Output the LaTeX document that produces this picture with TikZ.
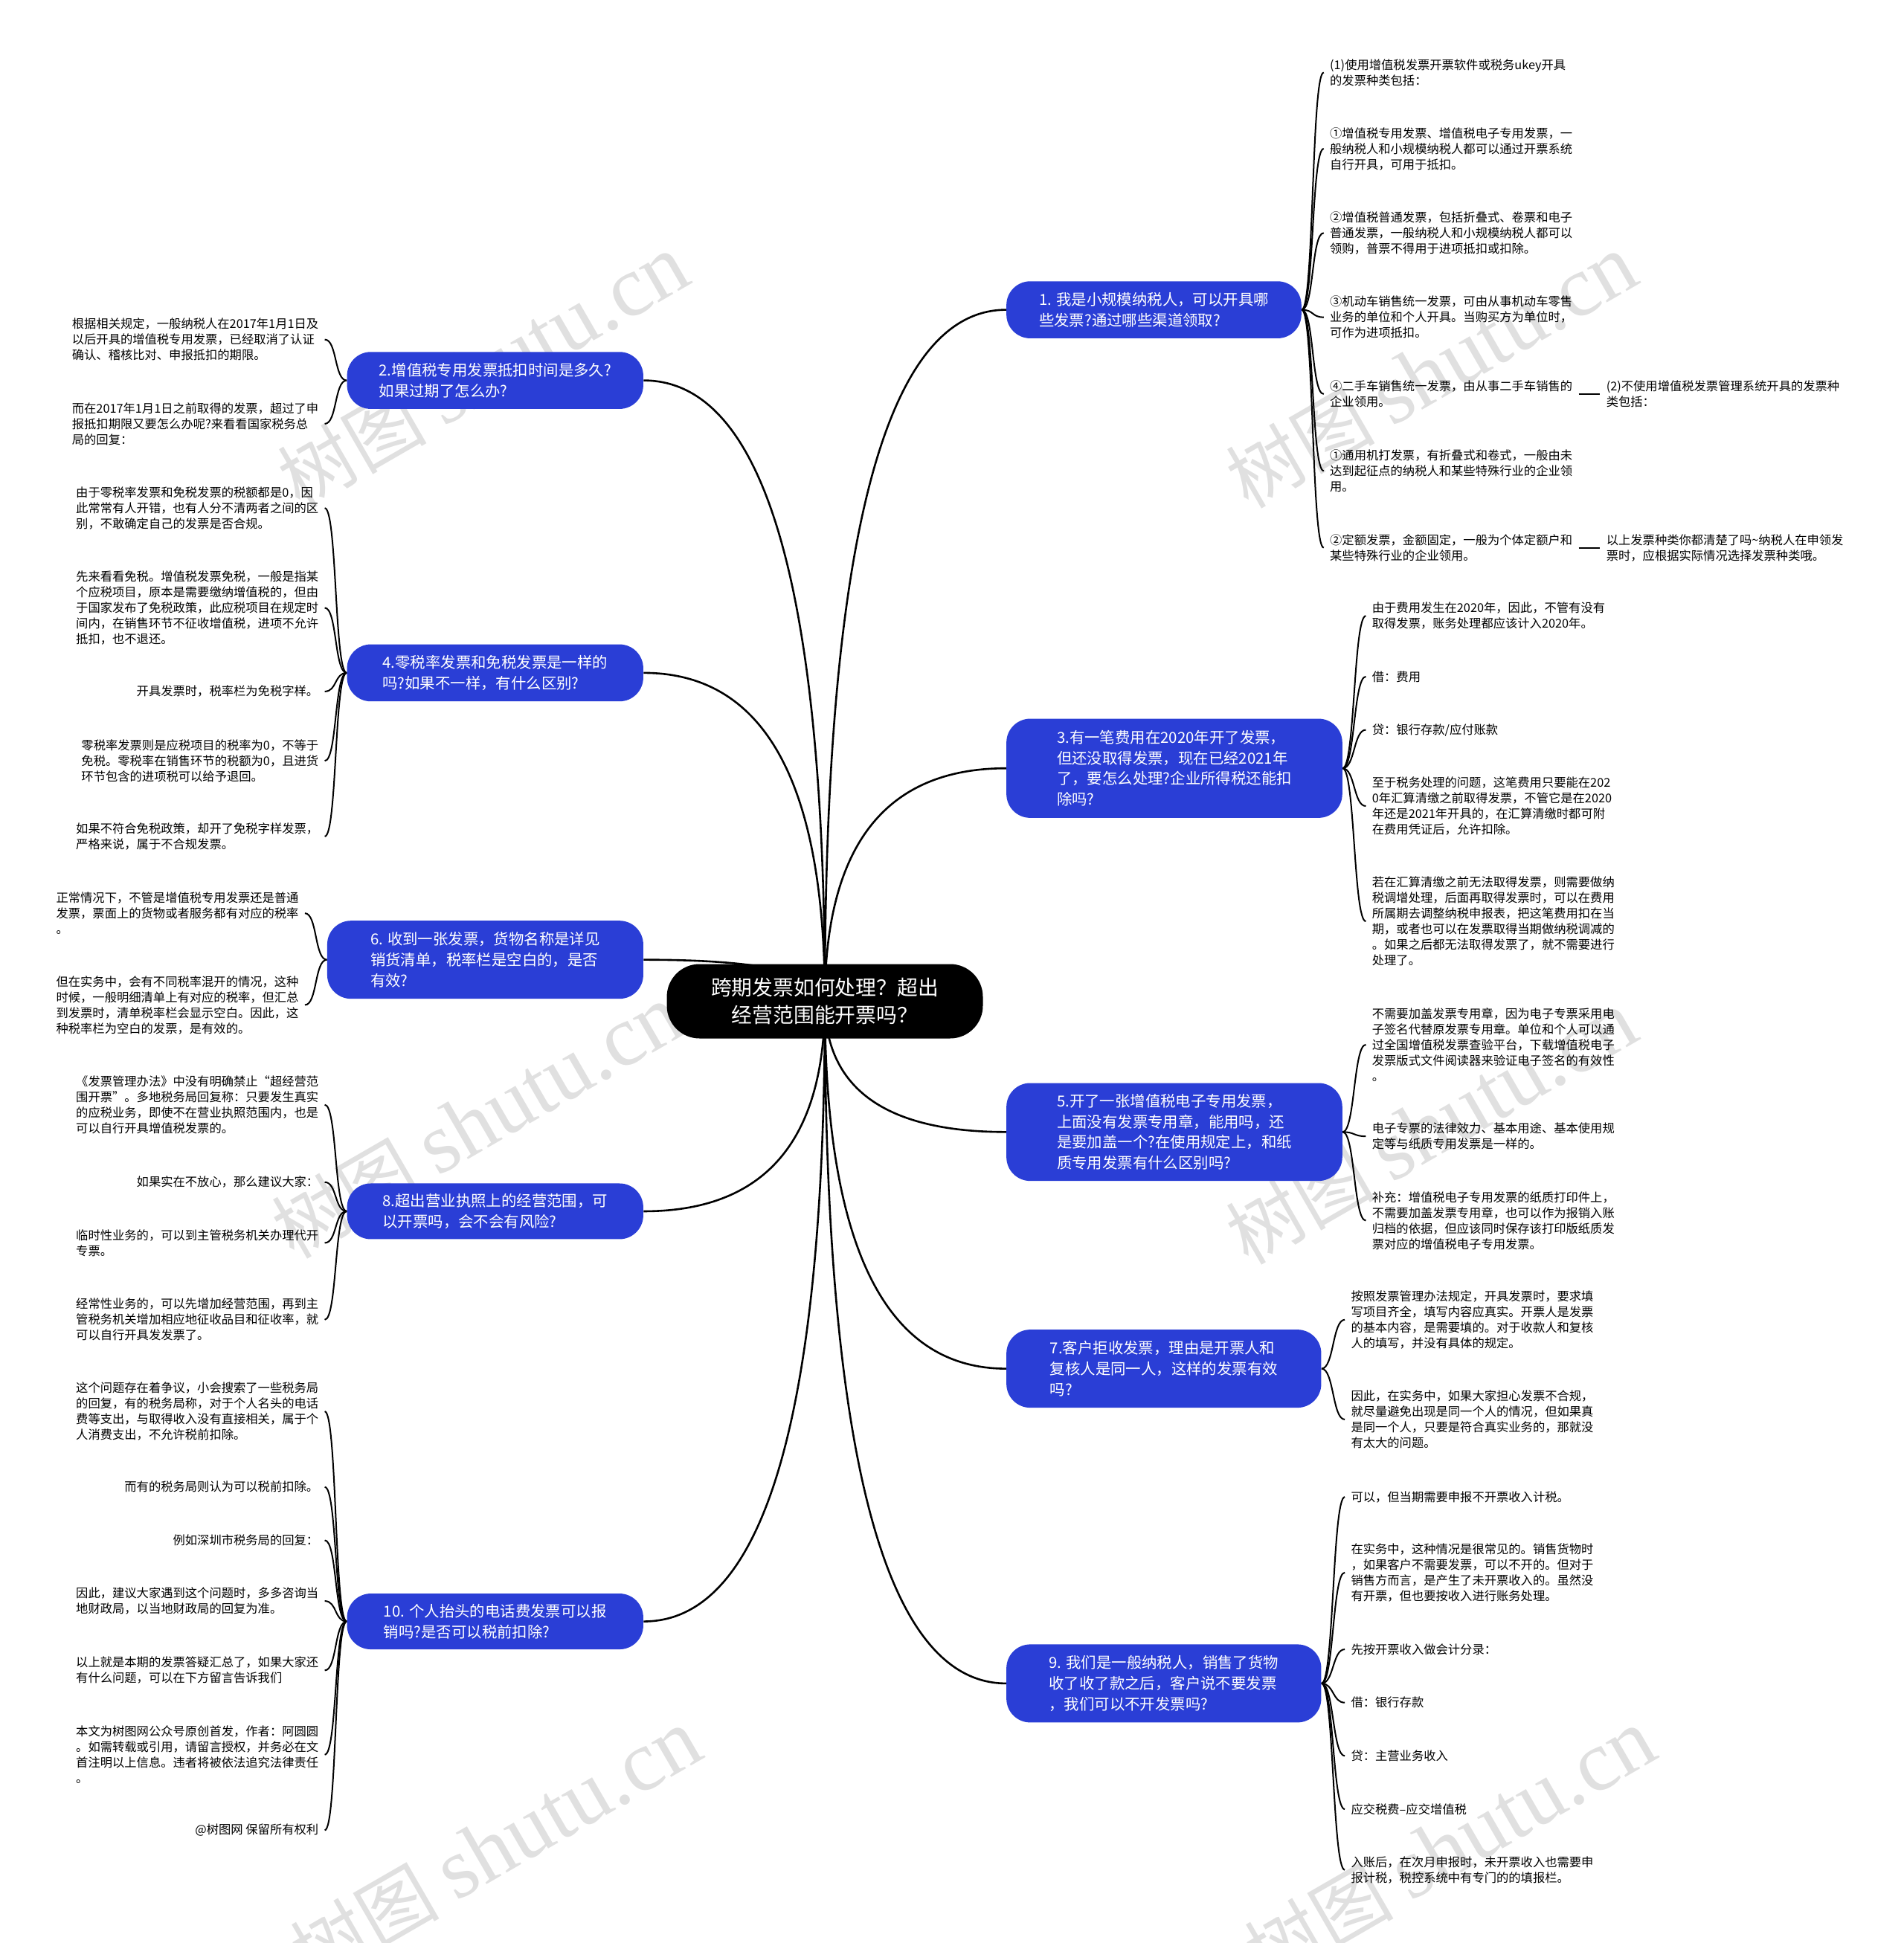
\documentclass[tikz,border=0pt]{standalone}
\usepackage{fontspec}
\setmainfont{Noto Sans CJK SC}
\newfontfamily\wmserif{Liberation Serif}
\usetikzlibrary{calc}

\definecolor{topicblue}{RGB}{42,62,214}
\definecolor{wmgray}{RGB}{224,224,224}
\pgfdeclarelayer{bg}
\pgfsetlayers{bg,main}

\newcommand{\rootfont}{\fontsize{13.9}{18.3}\selectfont}
\newcommand{\topicfont}{\fontsize{10.2}{13.9}\selectfont}
\newcommand{\leaffont}{\fontsize{8.15}{10.5}\selectfont}

\tikzset{
  boxsize/.style 2 args={minimum width=#1*0.8333pt, minimum height=#2*0.8333pt},
  rootnode/.style={fill=black, text=white, rounded corners=22pt, align=center, font=\rootfont, inner sep=0pt},
  topic/.style={fill=topicblue, text=white, rounded corners=16pt, align=left, font=\topicfont, inner sep=0pt},
  leafR/.style={anchor=west, align=left, font=\leaffont, inner xsep=4pt, inner ysep=0pt},
  leafL/.style={anchor=east, align=left, font=\leaffont, inner xsep=4pt, inner ysep=0pt},
  mainlink/.style={line width=1.3pt, to path={.. controls ($(\tikztostart)!0.667!(\tikztostart|-\tikztotarget)$) and ($(\tikztotarget)!0.667!(\tikztostart|-\tikztotarget)$) .. (\tikztotarget)}},
  brace/.style={line width=1pt, to path={.. controls ($(\tikztostart)+(#1,0)$) and ($(\tikztotarget)-(#1,0)$) .. (\tikztotarget)}},
  brace/.default=10,
  watermark/.style={text=wmgray, rotate=30, inner sep=0pt},
}

\begin{document}
\begin{tikzpicture}[x=0.8333pt, y=-0.8333pt]
  \useasboundingbox (0,0) rectangle (1536,1568);

  % root and questions
  \node[rootnode, boxsize={255}{60}] (root) at (665.5,808) {跨期发票如何处理？超出\\经营范围能开票吗？};

  \node[topic, boxsize={238}{46}] (q1) at (931,250) {1. 我是小规模纳税人，可以开具哪\\些发票?通过哪些渠道领取?};
  \node[topic, boxsize={239}{46}] (q2) at (399.5,307) {2.增值税专用发票抵扣时间是多久?\\如果过期了怎么办?};
  \node[topic, boxsize={271}{80}] (q3) at (947.5,620) {3.有一笔费用在2020年开了发票，\\但还没取得发票，现在已经2021年\\了，要怎么处理?企业所得税还能扣\\除吗?};
  \node[topic, boxsize={239}{46}] (q4) at (399.5,543) {4.零税率发票和免税发票是一样的\\吗?如果不一样，有什么区别?};
  \node[topic, boxsize={271}{79}] (q5) at (947.5,913.5) {5.开了一张增值税电子专用发票，\\上面没有发票专用章，能用吗，还\\是要加盖一个?在使用规定上，和纸\\质专用发票有什么区别吗?};
  \node[topic, boxsize={255}{63}] (q6) at (391.5,774.5) {6. 收到一张发票，货物名称是详见\\销货清单，税率栏是空白的，是否\\有效?};
  \node[topic, boxsize={254}{63}] (q7) at (939,1104.5) {7.客户拒收发票，理由是开票人和\\复核人是同一人，这样的发票有效\\吗?};
  \node[topic, boxsize={239}{45}] (q8) at (399.5,977.5) {8.超出营业执照上的经营范围，可\\以开票吗，会不会有风险?};
  \node[topic, boxsize={254}{63}] (q9) at (939,1358.5) {9. 我们是一般纳税人，销售了货物\\收了收了款之后，客户说不要发票\\，我们可以不开发票吗?};
  \node[topic, boxsize={239}{45}] (q10) at (399.5,1308.5) {10. 个人抬头的电话费发票可以报\\销吗?是否可以税前扣除?};

  % answers, right side
  \node[leafR] (q1a) at (1068,58.5) {(1)使用增值税发票开票软件或税务ukey开具\\的发票种类包括：};
  \node[leafR] (q1b) at (1068,120) {①增值税专用发票、增值税电子专用发票，一\\般纳税人和小规模纳税人都可以通过开票系统\\自行开具，可用于抵扣。};
  \node[leafR] (q1c) at (1068,188) {②增值税普通发票，包括折叠式、卷票和电子\\普通发票，一般纳税人和小规模纳税人都可以\\领购，普票不得用于进项抵扣或扣除。};
  \node[leafR] (q1d) at (1068,256) {③机动车销售统一发票，可由从事机动车零售\\业务的单位和个人开具。当购买方为单位时，\\可作为进项抵扣。};
  \node[leafR] (q1e) at (1068,318) {④二手车销售统一发票，由从事二手车销售的\\企业领用。};
  \node[leafR] (q1f) at (1068,380) {①通用机打发票，有折叠式和卷式，一般由未\\达到起征点的纳税人和某些特殊行业的企业领\\用。};
  \node[leafR] (q1g) at (1068,442) {②定额发票，金额固定，一般为个体定额户和\\某些特殊行业的企业领用。};
  \node[leafR] (q1h) at (1291,318) {(2)不使用增值税发票管理系统开具的发票种\\类包括：};
  \node[leafR] (q1i) at (1291,442) {以上发票种类你都清楚了吗\textasciitilde 纳税人在申领发\\票时，应根据实际情况选择发票种类哦。};

  \node[leafR] (q3a) at (1102,497) {由于费用发生在2020年，因此，不管有没有\\取得发票，账务处理都应该计入2020年。};
  \node[leafR] (q3b) at (1102,546) {借：费用};
  \node[leafR] (q3c) at (1102,589) {贷：银行存款/应付账款};
  \node[leafR] (q3d) at (1102,650.5) {至于税务处理的问题，这笔费用只要能在202\\0年汇算清缴之前取得发票，不管它是在2020\\年还是2021年开具的，在汇算清缴时都可附\\在费用凭证后，允许扣除。};
  \node[leafR] (q3e) at (1102,743.5) {若在汇算清缴之前无法取得发票，则需要做纳\\税调增处理，后面再取得发票时，可以在费用\\所属期去调整纳税申报表，把这笔费用扣在当\\期，或者也可以在发票取得当期做纳税调减的\\。如果之后都无法取得发票了，就不需要进行\\处理了。};

  \node[leafR] (q5a) at (1102,843) {不需要加盖发票专用章，因为电子专票采用电\\子签名代替原发票专用章。单位和个人可以通\\过全国增值税发票查验平台，下载增值税电子\\发票版式文件阅读器来验证电子签名的有效性\\。};
  \node[leafR] (q5b) at (1102,917) {电子专票的法律效力、基本用途、基本使用规\\定等与纸质专用发票是一样的。};
  \node[leafR] (q5c) at (1102,985) {补充：增值税电子专用发票的纸质打印件上，\\不需要加盖发票专用章，也可以作为报销入账\\归档的依据，但应该同时保存该打印版纸质发\\票对应的增值税电子专用发票。};

  \node[leafR] (q7a) at (1085,1065) {按照发票管理办法规定，开具发票时，要求填\\写项目齐全，填写内容应真实。开票人是发票\\的基本内容，是需要填的。对于收款人和复核\\人的填写，并没有具体的规定。};
  \node[leafR] (q7b) at (1085,1145.5) {因此，在实务中，如果大家担心发票不合规，\\就尽量避免出现是同一个人的情况，但如果真\\是同一个人，只要是符合真实业务的，那就没\\有太大的问题。};

  \node[leafR] (q9a) at (1085,1208) {可以，但当期需要申报不开票收入计税。};
  \node[leafR] (q9b) at (1085,1269) {在实务中，这种情况是很常见的。销售货物时\\，如果客户不需要发票，可以不开的。但对于\\销售方而言，是产生了未开票收入的。虽然没\\有开票，但也要按收入进行账务处理。};
  \node[leafR] (q9c) at (1085,1331) {先按开票收入做会计分录：};
  \node[leafR] (q9d) at (1085,1374) {借：银行存款};
  \node[leafR] (q9e) at (1085,1417) {贷：主营业务收入};
  \node[leafR] (q9f) at (1085,1460) {应交税费–应交增值税};
  \node[leafR] (q9g) at (1085,1509) {入账后，在次月申报时，未开票收入也需要申\\报计税，税控系统中有专门的的填报栏。};

  % answers, left side
  \node[leafL] (q2a) at (262,274) {根据相关规定，一般纳税人在2017年1月1日及\\以后开具的增值税专用发票，已经取消了认证\\确认、稽核比对、申报抵扣的期限。};
  \node[leafL] (q2b) at (262,342) {而在2017年1月1日之前取得的发票，超过了申\\报抵扣期限又要怎么办呢?来看看国家税务总\\局的回复：};

  \node[leafL] (q4a) at (262,410) {由于零税率发票和免税发票的税额都是0，因\\此常常有人开错，也有人分不清两者之间的区\\别，不敢确定自己的发票是否合规。};
  \node[leafL] (q4b) at (262,490.5) {先来看看免税。增值税发票免税，一般是指某\\个应税项目，原本是需要缴纳增值税的，但由\\于国家发布了免税政策，此应税项目在规定时\\间内，在销售环节不征收增值税，进项不允许\\抵扣，也不退还。};
  \node[leafL] (q4c) at (262,558) {开具发票时，税率栏为免税字样。};
  \node[leafL] (q4d) at (262,614) {零税率发票则是应税项目的税率为0，不等于\\免税。零税率在销售环节的税额为0，且进货\\环节包含的进项税可以给予退回。};
  \node[leafL] (q4e) at (262,675) {如果不符合免税政策，却开了免税字样发票，\\严格来说，属于不合规发票。};

  \node[leafL] (q6a) at (246,737) {正常情况下，不管是增值税专用发票还是普通\\发票，票面上的货物或者服务都有对应的税率\\。};
  \node[leafL] (q6b) at (246,811) {但在实务中，会有不同税率混开的情况，这种\\时候，一般明细清单上有对应的税率，但汇总\\到发票时，清单税率栏会显示空白。因此，这\\种税率栏为空白的发票，是有效的。};

  \node[leafL] (q8a) at (262,891.5) {《发票管理办法》中没有明确禁止“超经营范\\围开票”。多地税务局回复称：只要发生真实\\的应税业务，即使不在营业执照范围内，也是\\可以自行开具增值税发票的。};
  \node[leafL] (q8b) at (262,954) {如果实在不放心，那么建议大家：};
  \node[leafL] (q8c) at (262,1003) {临时性业务的，可以到主管税务机关办理代开\\专票。};
  \node[leafL] (q8d) at (262,1065) {经常性业务的，可以先增加经营范围，再到主\\管税务机关增加相应地征收品目和征收率，就\\可以自行开具发发票了。};

  \node[leafL] (q10a) at (262,1139) {这个问题存在着争议，小会搜索了一些税务局\\的回复，有的税务局称，对于个人名头的电话\\费等支出，与取得收入没有直接相关，属于个\\人消费支出，不允许税前扣除。};
  \node[leafL] (q10b) at (262,1200) {而有的税务局则认为可以税前扣除。};
  \node[leafL] (q10c) at (262,1243) {例如深圳市税务局的回复：};
  \node[leafL] (q10d) at (262,1292) {因此，建议大家遇到这个问题时，多多咨询当\\地财政局，以当地财政局的回复为准。};
  \node[leafL] (q10e) at (262,1348) {以上就是本期的发票答疑汇总了，如果大家还\\有什么问题，可以在下方留言告诉我们};
  \node[leafL] (q10f) at (262,1416) {本文为树图网公众号原创首发，作者：阿圆圆\\。如需转载或引用，请留言授权，并务必在文\\首注明以上信息。违者将被依法追究法律责任\\。};
  \node[leafL] (q10g) at (262,1477) {@树图网 保留所有权利};

  \begin{pgfonlayer}{bg}
    \fill[white] (0,0) rectangle (1536,1568);

    % watermarks
    \foreach \wx/\wy in {390/300, 1155/300, 385/905, 1155/910, 400/1490, 1170/1490} {
      \node[watermark] at (\wx,\wy) {\fontsize{50}{50}\selectfont 树图 {\wmserif\fontsize{58}{58}\selectfont shutu.cn}};
    }

    % root to questions
    \foreach \q in {q1,q3,q5,q7,q9}
      \draw[mainlink] (root.center) to (\q.west);
    \foreach \q in {q2,q4,q6,q8,q10}
      \draw[mainlink] (root.center) to (\q.east);

    % questions to answers
    \foreach \a in {q1a,q1b,q1c,q1d,q1e,q1f,q1g}
      \draw[brace] (q1.east) to (\a.west);
    \foreach \a in {q3a,q3b,q3c,q3d,q3e}
      \draw[brace] (q3.east) to (\a.west);
    \foreach \a in {q5a,q5b,q5c}
      \draw[brace] (q5.east) to (\a.west);
    \foreach \a in {q7a,q7b}
      \draw[brace] (q7.east) to (\a.west);
    \foreach \a in {q9a,q9b,q9c,q9d,q9e,q9f,q9g}
      \draw[brace] (q9.east) to (\a.west);
    \foreach \a in {q2a,q2b}
      \draw[brace=-10] (q2.west) to (\a.east);
    \foreach \a in {q4a,q4b,q4c,q4d,q4e}
      \draw[brace=-10] (q4.west) to (\a.east);
    \foreach \a in {q6a,q6b}
      \draw[brace=-10] (q6.west) to (\a.east);
    \foreach \a in {q8a,q8b,q8c,q8d}
      \draw[brace=-10] (q8.west) to (\a.east);
    \foreach \a in {q10a,q10b,q10c,q10d,q10e,q10f,q10g}
      \draw[brace=-10] (q10.west) to (\a.east);

    \draw[line width=1pt] (q1e.east) -- (q1h.west);
    \draw[line width=1pt] (q1g.east) -- (q1i.west);
  \end{pgfonlayer}
\end{tikzpicture}
\end{document}
